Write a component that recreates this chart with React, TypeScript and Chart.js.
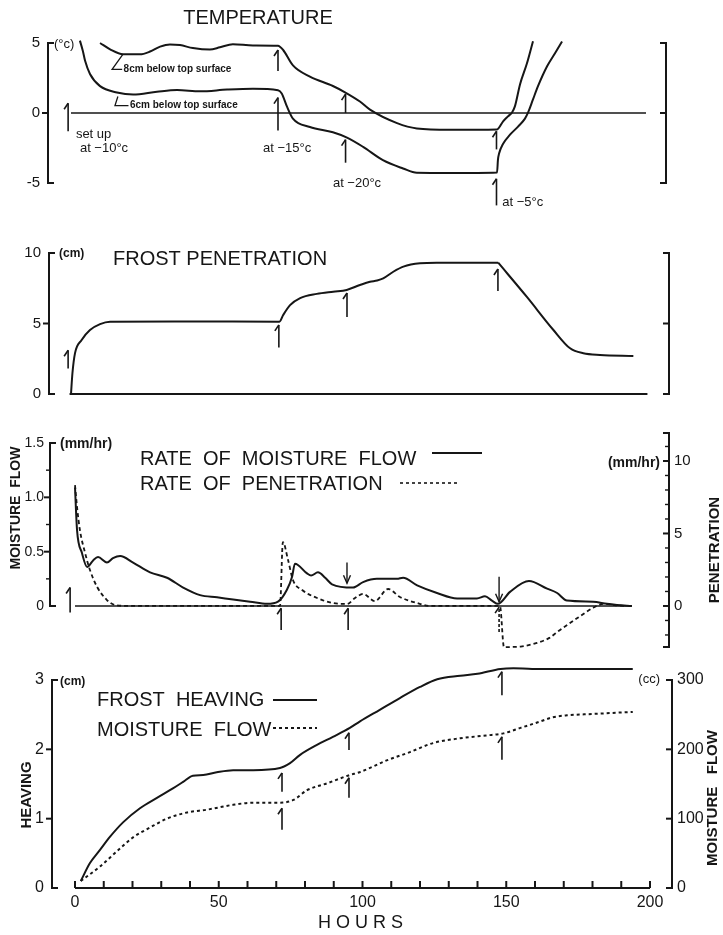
import React, { useEffect, useRef } from "react";
import { Chart, registerables } from "chart.js";

Chart.register(...registerables);

const FONT = "'Liberation Sans', Arial, sans-serif";
const INK = "#161616";

// ---------- Panel 1: TEMPERATURE (°C) ----------
const temp8cmHours = [10.1, 13.6, 18.1, 24, 27.5, 31, 34.4, 37.9, 42.4, 48.3, 51.8, 56.3, 63.3, 72, 73.8, 77.2, 83.1, 91.1, 95.3, 100.5, 104, 113.4, 120.3, 131.8, 148.2, 150.3, 152, 153.4, 154.4, 156.2, 158.6, 160.7];
const temp8cmValues = [5.0, 4.55, 4.2, 4.19, 4.39, 4.74, 4.9, 4.85, 4.64, 4.53, 4.69, 4.91, 4.83, 4.81, 4.5, 3.4, 2.6, 1.93, 1.48, 0.82, 0.24, -0.72, -1.1, -1.2, -1.17, -0.6, -0.24, 0.04, 0.47, 2.06, 3.55, 5.13];
const temp6cmHours = [3.1, 4.1, 4.9, 6.6, 10.1, 16, 21.6, 29.9, 36.9, 44.9, 54.3, 63.3, 72, 73.3, 75.1, 77.2, 83.1, 91.1, 96, 101.6, 108.5, 115.5, 120.3, 131.8, 148.2, 148.5, 148.9, 150.3, 152.7, 155.5, 157.9, 159, 160.7, 162.4, 165.6, 168.3, 170.8];
const temp6cmValues = [5.17, 4.45, 3.73, 2.79, 1.92, 1.47, 1.32, 1.52, 1.64, 1.55, 1.67, 1.73, 1.63, 1.4, 0.47, -0.4, -1.0, -1.38, -1.76, -2.42, -3.37, -3.96, -4.27, -4.29, -4.25, -3.35, -2.9, -2.2, -1.55, -0.97, -0.4, 0.04, 0.97, 1.9, 3.34, 4.25, 5.1];
const tempTicks = [-5, 0, 5];
const tempArrowHours = [-1, 72, 72, 95.5, 95.5, 148, 148];
const tempArrowTips = [0.7, 4.5, 1.1, 1.35, -1.9, -1.3, -4.7];
const tempArrowTails = [-1.3, 3.0, -1.25, 0, -3.55, -2.6, -6.6];
const tempNoteTexts = ["set up", "at \u221210\u00b0c", "at \u221215\u00b0c", "at \u221220\u00b0c", "at \u22125\u00b0c"];
const tempNoteHours = [1.7, 3.1, 66.8, 91.1, 150];
const tempNoteValues = [-1.5, -2.5, -2.55, -5.0, -6.4];

// ---------- Panel 2: FROST PENETRATION (cm) ----------
const frostRiseHours = [0, 0.5, 1.4, 3.7, 6.6, 10.1, 13.6, 40, 72.5, 73.8, 76.2, 79.7, 85.5, 91.2, 95.9, 100.5, 104, 106.5, 108.6, 112.1, 115.6, 121.4, 127.2, 148.6];
const frostRiseDepth = [0, 1.47, 2.9, 3.83, 4.54, 4.96, 5.13, 5.15, 5.13, 5.6, 6.3, 6.8, 7.1, 7.26, 7.38, 7.73, 7.96, 8.05, 8.2, 8.67, 9.03, 9.27, 9.31, 9.31];
const frostThawHours = [148.6, 158.5, 167.8, 173.6, 178.2, 184, 195.6];
const frostThawDepth = [9.31, 6.9, 4.54, 3.24, 2.89, 2.77, 2.7];
const frostTicks = [0, 5, 10];
const frostArrowHours = [-1, 72.3, 96, 148.5];
const frostArrowTips = [3.1, 4.9, 7.16, 8.87];
const frostArrowTails = [1.8, 3.3, 5.46, 7.3];

// ---------- Panel 3: RATES (mm/hr) ----------
const flowRateHours = [0, 0.7, 2.4, 4.2, 6.3, 8, 11.1, 13.2, 15.7, 20.2, 26.1, 32, 37.6, 43.5, 49.4, 55, 60.9, 66.8, 70.6, 73.7, 75.5, 76.5, 80.7, 82.1, 84.5, 87, 89.4, 96.7, 100.2, 105, 112, 114.1, 119, 125.9, 132.9, 139.8, 142.6, 145, 147.1, 151.3, 157.9, 164.2, 167.7, 171.1, 180.2, 185, 188.5, 193.7];
const flowRateValues = [1.09, 0.7, 0.49, 0.36, 0.42, 0.45, 0.4, 0.44, 0.46, 0.4, 0.31, 0.26, 0.17, 0.1, 0.08, 0.06, 0.04, 0.02, 0.04, 0.15, 0.27, 0.39, 0.3, 0.28, 0.31, 0.26, 0.2, 0.17, 0.22, 0.25, 0.25, 0.26, 0.19, 0.12, 0.07, 0.07, 0.09, 0.05, 0.02, 0.13, 0.23, 0.16, 0.12, 0.05, 0.04, 0.02, 0.01, 0];
const penRateHours = [0, 0.7, 1.7, 3.5, 5.2, 7.7, 11.1, 13.9, 19, 71.3, 72.3, 74.1, 75.8, 79, 84.2, 89.7, 94.6, 97.4, 100.2, 104.3, 108.9, 113, 119, 123.5, 147.8, 149.2, 155, 160.7, 165, 168, 172, 175, 180, 184, 188, 192];
const penRateValues = [8.34, 6.83, 5.24, 3.66, 2.48, 1.31, 0.41, 0.07, 0, 0, 4.41, 3.17, 1.79, 1.1, 0.55, 0.2, 0.14, 0.55, 0.83, 0.34, 1.17, 0.62, 0.2, 0, 0, -2.85, -2.8, -2.55, -2.2, -1.75, -1.2, -0.8, -0.15, 0.15, 0.05, 0];
const flowRateTicks = [0, 0.5, 1.0, 1.5];
const flowRateMinor = [0.25, 0.75, 1.25];
const penRateTicks = [0, 5, 10];
const penRateMinor = [-2, -1, 1, 2, 3, 4, 6, 7, 8, 9, 11];
const rateUpHours = [-1.7, 71.7, 95, 147.5];
const rateUpTips = [0.17, -0.02, -0.02, -0.01];
const rateUpTails = [-0.06, -0.22, -0.22, -0.24];
const rateDownHours = [94.6, 147.5];
const rateDownTails = [0.4, 0.27];
const rateDownTips = [0.21, 0.04];

// ---------- Panel 4: HEAVING (cm) & MOISTURE FLOW (cc) ----------
const heaveHours = [2, 5.2, 8.7, 12.2, 16.8, 22.6, 28.5, 34.2, 37.6, 41, 44.6, 49.3, 55, 62, 71.3, 74.8, 78.3, 84, 89.7, 95.6, 99, 106, 113, 120, 126, 134, 140, 148, 152.5, 159, 194];
const heaveValues = [0.1, 0.36, 0.55, 0.74, 0.95, 1.15, 1.3, 1.44, 1.53, 1.62, 1.63, 1.67, 1.7, 1.7, 1.73, 1.8, 1.92, 2.06, 2.18, 2.31, 2.4, 2.57, 2.74, 2.9, 3.01, 3.06, 3.09, 3.16, 3.17, 3.16, 3.16];
const moistHours = [2, 8.7, 14.6, 20.2, 26, 32, 39, 46, 55, 62, 71.3, 76, 80.7, 87.7, 95.6, 99, 108.4, 116.5, 124.5, 134, 143, 149, 155, 161, 166, 171, 180, 194];
const moistValues = [10, 31, 53, 73, 87, 100, 109, 113, 120, 123, 123, 127, 141, 151, 163, 167, 184, 196, 209, 216, 220, 223, 231, 239, 246, 249, 251, 254];
const heaveTicks = [0, 1, 2, 3];
const moistTicks = [0, 100, 200, 300];
const hourLabels = [0, 50, 100, 150, 200];
const hourTickMarks = [0, 10, 20, 30, 40, 50, 60, 70, 80, 90, 100, 110, 120, 130, 140, 150, 160, 170, 180, 190, 200];
const heaveArrowHours = [72, 72, 95.3, 95.3, 148.5, 148.5];
const heaveArrowTips = [1.66, 1.15, 2.24, 1.59, 3.12, 2.18];
const heaveArrowTails = [1.39, 0.84, 1.99, 1.3, 2.78, 1.85];

// ---------- helpers ----------
type Pt = [number, number];

const pts = (xs: number[], ys: number[]) => xs.map((x, i) => ({ x, y: ys[i] }));

function stroke(ctx: CanvasRenderingContext2D, p: Pt[], width = 2, dash: number[] = []) {
  ctx.save();
  ctx.strokeStyle = INK;
  ctx.lineWidth = width;
  ctx.setLineDash(dash);
  ctx.beginPath();
  p.forEach(([x, y], i) => (i ? ctx.lineTo(x, y) : ctx.moveTo(x, y)));
  ctx.stroke();
  ctx.restore();
}

function label(
  ctx: CanvasRenderingContext2D,
  text: string,
  x: number,
  y: number,
  size: number,
  o: { bold?: boolean; align?: CanvasTextAlign; rotate?: number; spacing?: number } = {}
) {
  ctx.save();
  ctx.fillStyle = INK;
  ctx.font = `${o.bold ? "bold " : ""}${size}px ${FONT}`;
  ctx.textAlign = o.align ?? "left";
  ctx.textBaseline = "middle";
  if (o.spacing) (ctx as any).letterSpacing = `${o.spacing}px`;
  ctx.translate(x, y);
  if (o.rotate) ctx.rotate(o.rotate);
  ctx.fillText(text, 0, 0);
  ctx.restore();
}

function arrowUp(ctx: CanvasRenderingContext2D, x: number, yTip: number, yTail: number, dash: number[] = []) {
  stroke(ctx, [[x, yTail], [x, yTip]], 1.6, dash);
  stroke(ctx, [[x - 4, yTip + 6], [x, yTip]], 1.6);
}

function arrowDown(ctx: CanvasRenderingContext2D, x: number, yTail: number, yTip: number) {
  stroke(ctx, [[x, yTail], [x, yTip]], 1.4);
  stroke(ctx, [[x - 3.5, yTip - 8], [x, yTip], [x + 3.5, yTip - 8]], 1.4);
}

function leftAxisLine(ctx: CanvasRenderingContext2D, s: any, x: number, lo: number, hi: number, mids: number[], minors: number[] = []) {
  const yT = s.getPixelForValue(hi);
  const yB = s.getPixelForValue(lo);
  stroke(ctx, [[x + 6, yT], [x, yT], [x, yB], [x + 6, yB]], 2);
  mids.forEach((v) => {
    const y = s.getPixelForValue(v);
    stroke(ctx, [[x - 6, y], [x, y]], 2);
  });
  minors.forEach((v) => {
    const y = s.getPixelForValue(v);
    stroke(ctx, [[x - 4, y], [x, y]], 1.4);
  });
}

function rightAxisLine(ctx: CanvasRenderingContext2D, s: any, x: number, lo: number, hi: number, mids: number[], minors: number[] = []) {
  const yT = s.getPixelForValue(hi);
  const yB = s.getPixelForValue(lo);
  stroke(ctx, [[x - 6, yT], [x, yT], [x, yB], [x - 6, yB]], 2);
  mids.forEach((v) => {
    const y = s.getPixelForValue(v);
    stroke(ctx, [[x - 6, y], [x, y]], 2);
  });
  minors.forEach((v) => {
    const y = s.getPixelForValue(v);
    stroke(ctx, [[x - 4, y], [x, y]], 1.4);
  });
}

function curve(xs: number[], ys: number[], dash: number[] = [], yAxisID = "y", width = 2) {
  return {
    data: pts(xs, ys),
    borderColor: INK,
    borderWidth: width,
    borderDash: dash,
    pointRadius: 0,
    fill: false,
    cubicInterpolationMode: "monotone",
    clip: false,
    yAxisID,
  };
}

function yScale(position: "left" | "right", min: number, max: number, ticks: number[], width: number, fmt: (v: number) => string, size = 15, pad = 7) {
  return {
    type: "linear",
    position,
    min,
    max,
    grid: { display: false, drawTicks: false },
    border: { display: false },
    ticks: { color: INK, font: { family: FONT, size }, padding: pad, callback: (v: any) => fmt(Number(v)) },
    afterBuildTicks: (s: any) => {
      s.ticks = ticks.map((value) => ({ value }));
    },
    afterFit: (s: any) => {
      s.width = width;
      s.paddingTop = 0;
      s.paddingBottom = 0;
      s.paddingLeft = 0;
      s.paddingRight = 0;
    },
  };
}

function hiddenX(min: number, max: number) {
  return {
    type: "linear",
    position: "bottom",
    min,
    max,
    display: false,
    afterFit: (s: any) => {
      s.height = 0;
      s.paddingLeft = 0;
      s.paddingRight = 0;
    },
  };
}

const baseOpts = (padding: any) => ({
  responsive: false,
  maintainAspectRatio: false,
  animation: false,
  events: [],
  layout: { padding },
  plugins: { legend: { display: false }, tooltip: { enabled: false }, title: { display: false } },
});

// ---------- panel configs ----------
function tempConfig() {
  return {
    type: "line",
    data: { datasets: [curve(temp8cmHours, temp8cmValues), curve(temp6cmHours, temp6cmValues)] },
    options: {
      ...baseOpts({ top: 43, bottom: 32, left: 0, right: 53 }),
      scales: {
        x: hiddenX(-8, 206.96),
        y: yScale("left", -5, 5, tempTicks, 52, (v) => String(v), 15, 8),
      },
    },
    plugins: [
      {
        id: "tempDecor",
        afterDraw(chart: any) {
          const { ctx, chartArea: a } = chart;
          const sx = chart.scales.x;
          const sy = chart.scales.y;
          const X = (h: number) => sx.getPixelForValue(h);
          const Y = (v: number) => sy.getPixelForValue(v);
          stroke(ctx, [[X(0), Y(0)], [X(200), Y(0)]], 1.4);
          leftAxisLine(ctx, sy, a.left, -5, 5, [0]);
          rightAxisLine(ctx, sy, a.right, -5, 5, [0]);
          tempArrowHours.forEach((h, i) => arrowUp(ctx, X(h), Y(tempArrowTips[i]), Y(tempArrowTails[i])));
          tempNoteTexts.forEach((t, i) => label(ctx, t, X(tempNoteHours[i]), Y(tempNoteValues[i]), 13));
          stroke(ctx, [[X(18.1), Y(4.2)], [X(14.3), Y(3.12)], [X(17.8), Y(3.12)]], 1.3);
          label(ctx, "8cm below top surface", X(18.3), Y(3.12), 10, { bold: true });
          stroke(ctx, [[X(16.3), Y(1.18)], [X(15.3), Y(0.53)], [X(20), Y(0.53)]], 1.3);
          label(ctx, "6cm below top surface", X(20.5), Y(0.53), 10, { bold: true });
          label(ctx, "TEMPERATURE", 262, 18, 20, { align: "center" });
          label(ctx, "(\u00b0c)", a.left + 6, Y(5) + 1, 13);
        },
      },
    ],
  };
}

function frostConfig() {
  return {
    type: "line",
    data: { datasets: [curve(frostRiseHours, frostRiseDepth), curve(frostThawHours, frostThawDepth)] },
    options: {
      ...baseOpts({ top: 48, bottom: 26, left: 0, right: 50 }),
      scales: {
        x: hiddenX(-7.65, 208),
        y: yScale("left", 0, 10, frostTicks, 53, (v) => String(v), 15, 8),
      },
    },
    plugins: [
      {
        id: "frostDecor",
        afterDraw(chart: any) {
          const { ctx, chartArea: a } = chart;
          const sx = chart.scales.x;
          const sy = chart.scales.y;
          const X = (h: number) => sx.getPixelForValue(h);
          const Y = (v: number) => sy.getPixelForValue(v);
          stroke(ctx, [[X(-0.5), Y(0)], [X(200.5), Y(0)]], 2);
          leftAxisLine(ctx, sy, a.left, 0, 10, [5]);
          rightAxisLine(ctx, sy, a.right, 0, 10, [5]);
          frostArrowHours.forEach((h, i) => arrowUp(ctx, X(h), Y(frostArrowTips[i]), Y(frostArrowTails[i])));
          label(ctx, "(cm)", a.left + 10, Y(10) + 1, 12, { bold: true });
          label(ctx, "FROST PENETRATION", 117, 54, 20);
        },
      },
    ],
  };
}

function rateConfig() {
  return {
    type: "line",
    data: {
      datasets: [curve(flowRateHours, flowRateValues, [], "y", 2), curve(penRateHours, penRateValues, [4, 3], "y2", 1.8)],
    },
    options: {
      ...baseOpts({ top: 13, bottom: 8, left: 0, right: 0 }),
      scales: {
        x: hiddenX(-8.7, 206.6),
        y: yScale("left", -0.377, 1.592, flowRateTicks, 50, (v) => (v === 0 ? "0" : v.toFixed(1)), 14, 6),
        y2: yScale("right", -2.83, 11.93, penRateTicks, 54, (v) => String(v), 15, 5),
      },
    },
    plugins: [
      {
        id: "rateDecor",
        afterDraw(chart: any) {
          const { ctx, chartArea: a } = chart;
          const sx = chart.scales.x;
          const sy = chart.scales.y;
          const sr = chart.scales.y2;
          const X = (h: number) => sx.getPixelForValue(h);
          const Y = (v: number) => sy.getPixelForValue(v);
          stroke(ctx, [[X(0), Y(0)], [X(193.7), Y(0)]], 1.4);
          leftAxisLine(ctx, sy, a.left, 0, 1.5, [0.5, 1.0], flowRateMinor);
          rightAxisLine(ctx, sr, a.right, sr.min, sr.max, penRateTicks, penRateMinor);
          rateUpHours.forEach((h, i) => arrowUp(ctx, X(h), Y(rateUpTips[i]), Y(rateUpTails[i]), i === 3 ? [3, 2] : []));
          rateDownHours.forEach((h, i) => arrowDown(ctx, X(h), Y(rateDownTails[i]), Y(rateDownTips[i])));
          label(ctx, "(mm/hr)", a.left + 10, Y(1.5) + 1, 14, { bold: true });
          label(ctx, "MOISTURE  FLOW", 16, 88, 14, { bold: true, align: "center", rotate: -Math.PI / 2 });
          label(ctx, "RATE  OF  MOISTURE  FLOW", 140, 39, 20);
          stroke(ctx, [[432, 33], [482, 33]], 2);
          label(ctx, "RATE  OF  PENETRATION", 140, 64, 20);
          stroke(ctx, [[400, 63], [460, 63]], 1.6, [3, 3]);
          label(ctx, "(mm/hr)", 660, 43, 14, { bold: true, align: "right" });
          label(ctx, "PENETRATION", 715, 130, 15, { bold: true, align: "center", rotate: -Math.PI / 2 });
        },
      },
    ],
  };
}

function heaveConfig() {
  return {
    type: "line",
    data: {
      datasets: [curve(heaveHours, heaveValues, [], "y", 2), curve(moistHours, moistValues, [3, 3], "y2", 2)],
    },
    options: {
      ...baseOpts({ top: 25, bottom: 0, left: 0, right: 0 }),
      scales: {
        x: {
          type: "linear",
          position: "bottom",
          min: -8,
          max: 207.65,
          grid: { display: false, drawTicks: false },
          border: { display: false },
          ticks: { color: INK, font: { family: FONT, size: 16 }, padding: 5, maxRotation: 0, autoSkip: false, callback: (v: any) => String(v) },
          afterBuildTicks: (s: any) => {
            s.ticks = hourLabels.map((value) => ({ value }));
          },
          afterFit: (s: any) => {
            s.height = 47;
            s.paddingLeft = 0;
            s.paddingRight = 0;
          },
        },
        y: yScale("left", 0, 3, heaveTicks, 52, (v) => String(v), 16, 8),
        y2: yScale("right", 0, 300, moistTicks, 51, (v) => String(v), 16, 5),
      },
    },
    plugins: [
      {
        id: "heaveDecor",
        afterDraw(chart: any) {
          const { ctx, chartArea: a } = chart;
          const sx = chart.scales.x;
          const sy = chart.scales.y;
          const sr = chart.scales.y2;
          const X = (h: number) => sx.getPixelForValue(h);
          const Y = (v: number) => sy.getPixelForValue(v);
          stroke(ctx, [[X(0), Y(0)], [X(200), Y(0)]], 2);
          hourTickMarks.forEach((h) => stroke(ctx, [[X(h), Y(0)], [X(h), Y(0) - 7]], 2));
          leftAxisLine(ctx, sy, a.left, 0, 3, [1, 2]);
          rightAxisLine(ctx, sr, a.right, 0, 300, [100, 200]);
          heaveArrowHours.forEach((h, i) => arrowUp(ctx, X(h), Y(heaveArrowTips[i]), Y(heaveArrowTails[i])));
          label(ctx, "FROST  HEAVING", 97, 45, 20);
          stroke(ctx, [[273, 45], [317, 45]], 2);
          label(ctx, "MOISTURE  FLOW", 97, 75, 20);
          stroke(ctx, [[273, 73], [317, 73]], 2, [3, 3]);
          label(ctx, "(cm)", a.left + 8, Y(3) + 2, 12, { bold: true });
          label(ctx, "HEAVING", 27, 140, 15, { bold: true, align: "center", rotate: -Math.PI / 2 });
          label(ctx, "(cc)", 660, 24, 13, { align: "right" });
          label(ctx, "MOISTURE   FLOW", 713, 143, 15, { bold: true, align: "center", rotate: -Math.PI / 2 });
          label(ctx, "HOURS", 363, 268, 18, { align: "center", spacing: 5 });
        },
      },
    ],
  };
}

function Panel({ top, left, height, build }: { top: number; left: number; height: number; build: () => any }) {
  const ref = useRef<HTMLCanvasElement>(null);
  useEffect(() => {
    const chart = new Chart(ref.current as HTMLCanvasElement, build());
    return () => chart.destroy();
  }, []);
  return (
    <canvas
      ref={ref}
      width={723}
      height={height}
      style={{ position: "absolute", left, top, width: 723, height, display: "block" }}
    />
  );
}

export default function App() {
  return (
    <div style={{ position: "absolute", left: 0, top: 0, width: 723, height: 935, background: "#fff", overflow: "hidden" }}>
      <Panel top={205} left={-4} height={215} build={frostConfig} />
      <Panel top={0} left={-4} height={215} build={tempConfig} />
      <Panel top={420} left={0} height={235} build={rateConfig} />
      <Panel top={655} left={0} height={280} build={heaveConfig} />
    </div>
  );
}
